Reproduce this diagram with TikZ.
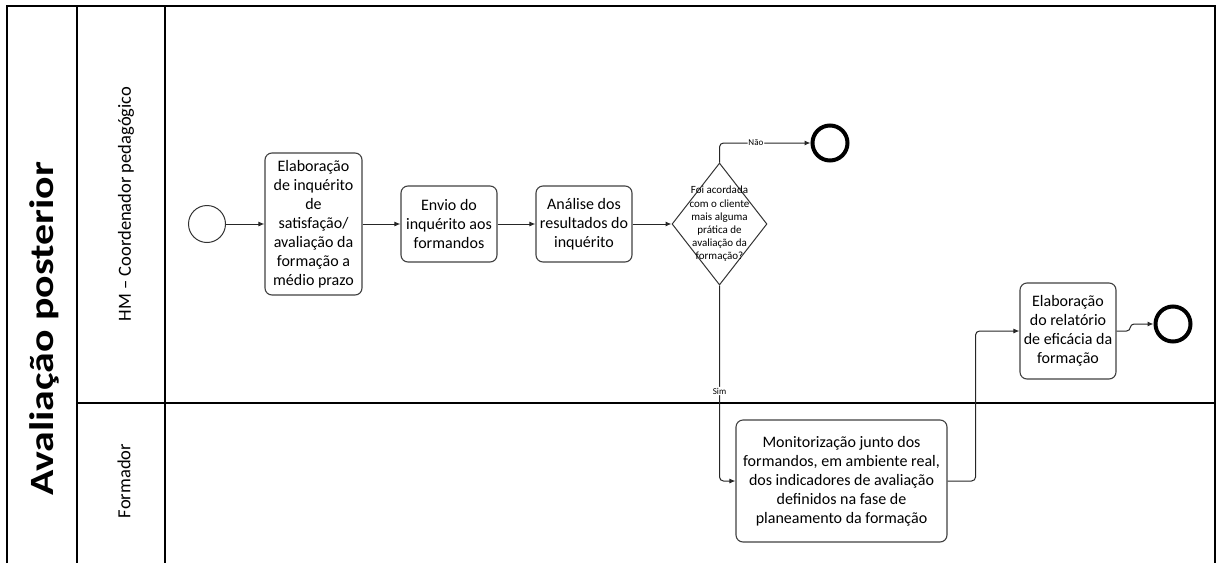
\documentclass[tikz,border=0pt]{standalone}
\usepackage{fontspec}
\usepackage{graphicx}
\setmainfont{Carlito}
\usetikzlibrary{arrows.meta,shapes.geometric}
\begin{document}
\begin{tikzpicture}[x=1pt,y=-1pt,
  poolline/.style={draw=black,line width=1.4pt},
  task/.style={draw=black!75,line width=1.1pt,rounded corners=7pt,align=center,
    inner sep=0pt,font=\fontsize{16}{19}\selectfont},
  startev/.style={circle,draw=black!80,line width=1pt,minimum size=37pt,inner sep=0pt},
  endev/.style={circle,draw=black,line width=4pt,minimum size=35pt,inner sep=0pt},
  gateway/.style={diamond,draw=black!80,line width=1pt,minimum width=95pt,
    minimum height=122pt,inner sep=0pt},
  gwtext/.style={align=center,inner sep=0pt,font=\fontsize{11}{13.2}\selectfont},
  flow/.style={draw=black!85,line width=1pt,-{Latex[length=6pt,width=5pt]}},
  lbl/.style={fill=white,inner sep=1pt,font=\fontsize{9}{10}\selectfont},
  lanelabel/.style={rotate=90,inner sep=0pt,font=\fontsize{18.5}{20}\selectfont}]
\useasboundingbox (0,0) rectangle (1216,563);

% pool frame and lanes
\draw[poolline] (7,563) -- (7,6) -- (1215,6) -- (1215,563);
\draw[poolline] (77,6) -- (77,563);
\draw[poolline] (165,6) -- (165,563);
\draw[poolline] (77,403) -- (1215,403);

\node[rotate=90,inner sep=0pt,font=\fontsize{34}{40}\bfseries\selectfont] (pooltitle) at (44,329)
  {\scalebox{1.23}[1]{Avaliação posterior}};
\node[lanelabel] (lanehm) at (126,204) {HM – Coordenador pedagógico};
\node[lanelabel] (lanefor) at (124,481) {Formador};

% events, tasks and gateway
\node[startev] (start) at (207,224) {};
\node[task,minimum width=97pt,minimum height=142pt] (t1) at (313.5,224)
  {Elaboração\\de inquérito\\de\\satisfação/\\avaliação da\\formação a\\médio prazo};
\node[task,minimum width=96pt,minimum height=76pt] (t2) at (449,224)
  {Envio do\\inquérito aos\\formandos};
\node[task,minimum width=96pt,minimum height=76pt] (t3) at (584,224)
  {Análise dos\\resultados do\\inquérito};
\node[gateway] (gw) at (719.5,224) {};
\node[gwtext] (gwq) at (719.5,224)
  {Foi acordada\\com o cliente\\mais alguma\\prática de\\avaliação da\\formação?};
\node[endev] (end1) at (830,143) {};
\node[task,minimum width=211pt,minimum height=122pt] (mon) at (841.5,481)
  {Monitorização junto dos\\formandos, em ambiente real,\\dos indicadores de avaliação\\definidos na fase de\\planeamento da formação};
\node[task,minimum width=96pt,minimum height=96pt] (rel) at (1068,331)
  {Elaboração\\do relatório\\de eficácia da\\formação};
\node[endev] (end2) at (1173,324) {};
\coordinate (jog) at (1134,324);

% sequence flows
\draw[flow] (start) -- (t1);
\draw[flow] (t1) -- (t2);
\draw[flow] (t2) -- (t3);
\draw[flow] (t3) -- (gw);
\draw[flow,rounded corners=4pt] (gw.north) |- node[lbl,pos=0.7] {Não} (end1);
\draw[flow,rounded corners=4pt] (gw.south) |- node[lbl,pos=0.27] {Sim} (mon.west);
\draw[flow,rounded corners=4pt] (mon.east) -- ++(28,0) |- (rel.west);
\draw[flow] (rel.east) -- ++(10,0) .. controls +(5,0) and +(-5,0) .. (jog) -- (end2);
\end{tikzpicture}
\end{document}
